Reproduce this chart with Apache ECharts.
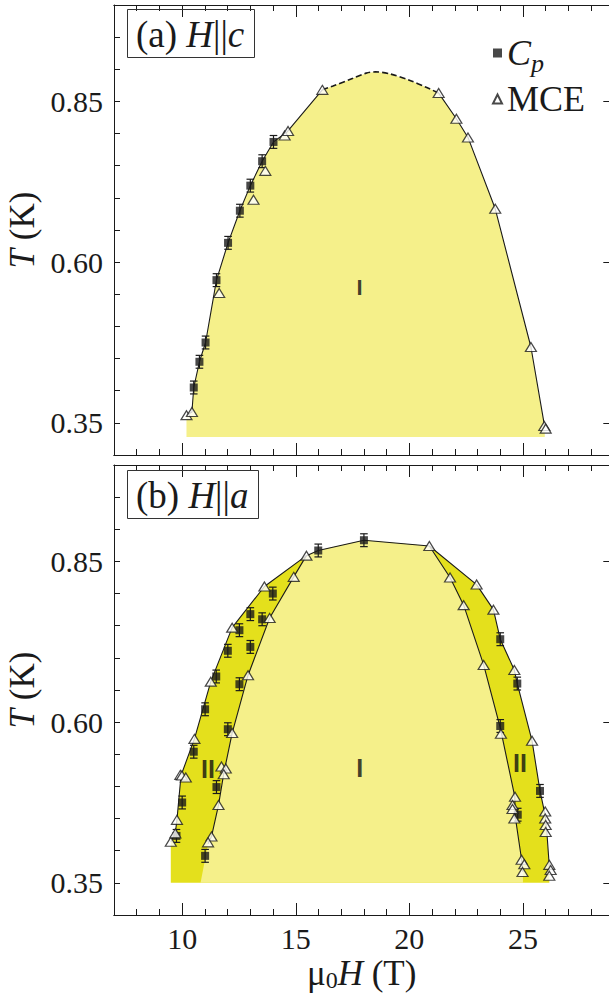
<!DOCTYPE html>
<html>
<head>
<meta charset="utf-8">
<script src="https://cdn.jsdelivr.net/npm/echarts@6/dist/echarts.min.js"></script>
<style>
  html, body { margin: 0; padding: 0; background: #ffffff; }
  #chart { width: 609px; height: 1001px; }
</style>
</head>
<body>
<div id="chart"></div>
<script>
// ---------- Axis ticks ----------
const xMajorTicks = [10, 15, 20, 25];
const xMinorTicks = [7, 8, 9, 10, 11, 12, 13, 14, 15, 16, 17, 18, 19, 20, 21, 22, 23, 24, 25, 26, 27, 28];
const yLabelTicks = [0.35, 0.60, 0.85];
const yMinorTicks = [0.30, 0.35, 0.40, 0.45, 0.50, 0.55, 0.60, 0.65, 0.70, 0.75, 0.80, 0.85, 0.90, 0.95, 1.00];

// ---------- Panel (a): H || c ----------
const cpA_H = [10.51, 10.76, 11.03, 11.51, 12.02, 12.54, 13.00, 13.52, 14.02];
const cpA_T = [0.405, 0.445, 0.475, 0.572, 0.630, 0.680, 0.719, 0.757, 0.787];
const cpA_err = [0.010, 0.010, 0.010, 0.010, 0.010, 0.010, 0.010, 0.010, 0.010];

const mceA_H = [10.19, 10.43, 11.63, 13.14, 13.66, 14.51, 14.66, 16.17, 21.29, 22.07, 22.58, 23.78, 25.35, 25.94, 26.00];
const mceA_T = [0.362, 0.367, 0.552, 0.697, 0.742, 0.797, 0.804, 0.868, 0.863, 0.823, 0.794, 0.683, 0.468, 0.345, 0.341];

// phase boundary, solid on the flanks, dashed across the top
const boundaryA_left = [[10.19, 0.362], [10.43, 0.367], [10.51, 0.405], [10.76, 0.445], [11.03, 0.475],
  [11.51, 0.572], [12.02, 0.630], [12.54, 0.680], [13.00, 0.719], [13.52, 0.757], [14.02, 0.787],
  [14.60, 0.802], [16.17, 0.868]];
const boundaryA_top = [[16.17, 0.868], [16.64, 0.874], [17.52, 0.886], [18.10, 0.894], [18.51, 0.896],
  [19.13, 0.893], [20.00, 0.883], [20.74, 0.872], [21.29, 0.863]];
const boundaryA_right = [[21.29, 0.863], [22.07, 0.823], [22.58, 0.794], [23.78, 0.683], [25.35, 0.468],
  [25.96, 0.343]];
const fillA_base = 0.328;

const regionA_labels = [[17.81, 0.561, 'I']];

// ---------- Panel (b): H || a ----------
const cpB_H = [9.75, 10.00, 10.51, 11.01, 11.01, 11.50, 11.51, 12.01, 12.01, 12.52, 12.52, 13.00, 13.00,
  13.52, 13.99, 15.99, 18.00, 24.00, 24.00, 24.75, 24.77, 25.75];
const cpB_T = [0.423, 0.475, 0.554, 0.620, 0.392, 0.671, 0.499, 0.711, 0.589, 0.743, 0.659, 0.768, 0.717,
  0.760, 0.800, 0.867, 0.883, 0.729, 0.594, 0.660, 0.456, 0.493];
const cpB_err = [0.010, 0.010, 0.010, 0.010, 0.010, 0.010, 0.010, 0.010, 0.010, 0.010, 0.010, 0.010, 0.010,
  0.010, 0.010, 0.010, 0.010, 0.010, 0.010, 0.010, 0.010, 0.010];

const mceB_H = [9.50, 9.70, 9.77, 9.92, 9.99, 10.16, 10.54, 11.26, 12.20, 13.62, 15.47,
  20.88, 22.96, 23.70, 24.62, 25.40, 25.98, 25.98, 26.00, 26.00, 26.16, 26.22, 26.16,
  21.79, 22.39, 23.27, 24.03, 24.65, 24.54, 24.54, 24.62, 24.94, 25.06, 24.98,
  14.91, 13.85, 12.90, 12.20, 11.73, 11.92, 11.83, 11.60, 11.29, 11.14];
const mceB_T = [0.414, 0.427, 0.448, 0.518, 0.517, 0.514, 0.574, 0.663, 0.747, 0.811, 0.859,
  0.874, 0.814, 0.775, 0.681, 0.571, 0.461, 0.450, 0.440, 0.429, 0.378, 0.370, 0.361,
  0.825, 0.782, 0.689, 0.582, 0.484, 0.471, 0.465, 0.450, 0.386, 0.379, 0.367,
  0.826, 0.762, 0.673, 0.583, 0.531, 0.528, 0.519, 0.471, 0.422, 0.413];

// outer boundary (edge of phase II) and inner boundaries (edge of phase I)
const outerB_left = [[9.50, 0.414], [9.70, 0.428], [9.77, 0.448], [9.95, 0.517], [10.54, 0.574],
  [11.26, 0.663], [12.20, 0.747], [13.62, 0.811], [15.47, 0.859]];
const topB = [[15.47, 0.859], [15.99, 0.867], [18.00, 0.883], [20.88, 0.874]];
const outerB_right = [[20.88, 0.874], [22.96, 0.814], [23.70, 0.775], [24.00, 0.729], [24.62, 0.681],
  [24.75, 0.660], [25.40, 0.571], [25.75, 0.493], [25.98, 0.455], [26.05, 0.430], [26.16, 0.375]];
const innerB_left = [[11.14, 0.411], [11.29, 0.422], [11.60, 0.471], [11.83, 0.520], [12.20, 0.583],
  [12.90, 0.673], [13.85, 0.762], [14.91, 0.826], [15.47, 0.859]];
const innerB_right = [[20.88, 0.874], [21.79, 0.825], [22.39, 0.782], [23.27, 0.689], [24.01, 0.590],
  [24.64, 0.484], [24.66, 0.453], [24.94, 0.386], [25.00, 0.367]];
const innerB_foot = [[10.81, 0.350]];
const fillB_base = 0.35;

const regionB_labels = [[17.81, 0.528, 'I']];
const regionB2_labels = [[11.14, 0.527, 'II'], [24.87, 0.537, 'II']];

// ---------- Styling ----------
const SERIF = 'Liberation Serif';
const SANS = 'Liberation Sans';
const INK = '#1a1a1a';
const PHASE_I = '#F5F08A';
const PHASE_II = '#E4E01C';

const X_MIN = 7, X_MAX = 28.8, Y_MIN = 0.30, Y_MAX = 1.00;
const GRID_LEFT = 114, GRID_W = 495.3, GRID_H = 450;
const GRID_TOPS = [5, 465];

const zip = (a, b) => a.map((v, i) => [v, b[i]]);

function xAxesFor(gridIndex, withLabels) {
  const base = {
    type: 'value', gridIndex, min: X_MIN, max: X_MAX,
    splitLine: { show: false },
    axisLine: { show: true, onZero: false, lineStyle: { color: INK, width: 1 } }
  };
  return [
    Object.assign({}, base, {
      position: 'bottom',
      axisTick: { show: true, inside: true, length: 12, customValues: xMajorTicks, lineStyle: { color: INK } },
      axisLabel: withLabels ? {
        show: true, customValues: xMajorTicks, margin: 8,
        fontFamily: SERIF, fontSize: 30, color: INK
      } : { show: false },
      name: withLabels ? '{m|μ}{s|0}{i|H} (T)' : '',
      nameLocation: 'middle', nameGap: 39,
      nameTextStyle: {
        fontFamily: SERIF, fontSize: 35, color: INK,
        rich: {
          m: { fontFamily: SERIF, fontSize: 35, color: INK },
          s: { fontFamily: SERIF, fontSize: 24, color: INK, padding: [14, 0, 0, 0] },
          i: { fontFamily: SERIF, fontSize: 35, color: INK, fontStyle: 'italic' }
        }
      }
    }),
    Object.assign({}, base, {
      position: 'bottom',
      axisTick: { show: true, inside: true, length: 6, customValues: xMinorTicks, lineStyle: { color: INK } },
      axisLabel: { show: false }
    }),
    Object.assign({}, base, {
      position: 'top',
      axisTick: { show: true, inside: true, length: 12, customValues: xMajorTicks, lineStyle: { color: INK } },
      axisLabel: { show: false }
    }),
    Object.assign({}, base, {
      position: 'top',
      axisTick: { show: true, inside: true, length: 6, customValues: xMinorTicks, lineStyle: { color: INK } },
      axisLabel: { show: false }
    })
  ];
}

function yAxesFor(gridIndex) {
  const base = {
    type: 'value', gridIndex, min: Y_MIN, max: Y_MAX,
    splitLine: { show: false },
    axisLine: { show: true, onZero: false, lineStyle: { color: INK, width: 1 } }
  };
  return [
    Object.assign({}, base, {
      position: 'left',
      axisTick: { show: true, inside: true, length: 6, customValues: yMinorTicks, lineStyle: { color: INK } },
      axisLabel: {
        show: true, customValues: yLabelTicks, margin: 11,
        formatter: v => v.toFixed(2),
        fontFamily: SERIF, fontSize: 30, color: INK
      },
      name: '{i|T} (K)',
      nameLocation: 'middle', nameGap: 64, nameRotate: 90,
      nameTextStyle: {
        fontFamily: SERIF, fontSize: 35, color: INK,
        rich: { i: { fontFamily: SERIF, fontSize: 35, color: INK, fontStyle: 'italic' } }
      }
    }),
    Object.assign({}, base, {
      position: 'right',
      axisTick: { show: true, inside: true, length: 6, customValues: yLabelTicks, lineStyle: { color: INK } },
      axisLabel: { show: false }
    })
  ];
}

function errorBars(xAxisIndex, yAxisIndex, H, T, E) {
  return {
    type: 'custom', xAxisIndex, yAxisIndex, silent: true, z: 4,
    data: H.map((h, i) => [h, T[i] - E[i], T[i] + E[i]]),
    encode: { x: 0, y: [1, 2] },
    renderItem(params, api) {
      const lo = api.coord([api.value(0), api.value(1)]);
      const hi = api.coord([api.value(0), api.value(2)]);
      const w = 3.8;
      const st = { stroke: INK, lineWidth: 1.2 };
      return {
        type: 'group',
        children: [
          { type: 'line', shape: { x1: lo[0], y1: lo[1], x2: hi[0], y2: hi[1] }, style: st },
          { type: 'line', shape: { x1: lo[0] - w, y1: lo[1], x2: lo[0] + w, y2: lo[1] }, style: st },
          { type: 'line', shape: { x1: hi[0] - w, y1: hi[1], x2: hi[0] + w, y2: hi[1] }, style: st }
        ]
      };
    }
  };
}

function boundaryLine(xAxisIndex, yAxisIndex, data, dashed) {
  return {
    type: 'line', xAxisIndex, yAxisIndex, data, silent: true, z: 3,
    symbol: 'none', smooth: dashed ? 0.3 : false,
    lineStyle: { color: INK, width: dashed ? 1.6 : 1.1, type: dashed ? [6, 3] : 'solid' }
  };
}

function areaFill(xAxisIndex, yAxisIndex, data, color, base, z) {
  return {
    type: 'line', xAxisIndex, yAxisIndex, data, silent: true, z,
    symbol: 'none', lineStyle: { width: 0, opacity: 0 },
    areaStyle: { color, opacity: 1, origin: base }
  };
}

function cpPoints(xAxisIndex, yAxisIndex, H, T) {
  return {
    name: 'Cp', type: 'scatter', xAxisIndex, yAxisIndex, z: 5,
    data: zip(H, T), symbol: 'rect', symbolSize: 8,
    itemStyle: { color: INK }
  };
}

function mcePoints(xAxisIndex, yAxisIndex, H, T) {
  return {
    name: 'MCE', type: 'scatter', xAxisIndex, yAxisIndex, z: 6,
    data: zip(H, T), symbol: 'triangle', symbolSize: [11, 9],
    itemStyle: { color: '#ffffff', borderColor: INK, borderWidth: 1.2 }
  };
}

function regionLabels(xAxisIndex, yAxisIndex, data, size) {
  return {
    type: 'scatter', xAxisIndex, yAxisIndex, silent: true, z: 7,
    data, symbol: 'circle', symbolSize: 1,
    itemStyle: { color: 'rgba(0,0,0,0)' },
    label: {
      show: true, position: 'inside', formatter: p => p.data[2],
      fontFamily: SANS, fontWeight: 'bold', fontSize: size, color: '#111111'
    }
  };
}

function panelTitle(letter, dir, top) {
  return {
    text: '{n|(' + letter + ') }{i|H}{n|||}{i|' + dir + '}',
    left: 127, top,
    borderColor: '#333', borderWidth: 1,
    padding: [7, 10, 5, 9],
    textStyle: {
      fontFamily: SERIF, fontSize: 37, color: INK, fontWeight: 'normal',
      rich: {
        n: { fontFamily: SERIF, fontSize: 37, color: INK },
        i: { fontFamily: SERIF, fontSize: 37, color: INK, fontStyle: 'italic' }
      }
    }
  };
}

const chart = echarts.init(document.getElementById('chart'), null, { renderer: 'svg' });

chart.setOption({
  animation: false,
  backgroundColor: '#ffffff',
  grid: GRID_TOPS.map(t => ({
    left: GRID_LEFT, top: t, width: GRID_W, height: GRID_H,
    containLabel: false, outerBoundsMode: 'none'
  })),
  title: [panelTitle('a', 'c', 9), panelTitle('b', 'a', 470)],
  legend: {
    data: [{ name: 'Cp', icon: 'rect' }, { name: 'MCE', icon: 'triangle' }],
    orient: 'vertical', left: 487, top: 30,
    itemWidth: 9, itemHeight: 9, itemGap: 5,
    selectedMode: false,
    formatter: n => n === 'Cp' ? '{i|C}{s|p}' : '{n|MCE}',
    textStyle: {
      fontFamily: SERIF, fontSize: 36, color: INK,
      rich: {
        i: { fontFamily: SERIF, fontSize: 36, color: INK, fontStyle: 'italic' },
        s: { fontFamily: SERIF, fontSize: 26, color: INK, fontStyle: 'italic', padding: [20, 0, 0, 0] },
        n: { fontFamily: SERIF, fontSize: 36, color: INK }
      }
    }
  },
  xAxis: xAxesFor(0, false).concat(xAxesFor(1, true)),
  yAxis: yAxesFor(0).concat(yAxesFor(1)),
  series: [
    // panel (a)
    areaFill(0, 0, boundaryA_left.concat(boundaryA_top.slice(1), boundaryA_right.slice(1)), PHASE_I, fillA_base, 1),
    boundaryLine(0, 0, boundaryA_left, false),
    boundaryLine(0, 0, boundaryA_top, true),
    boundaryLine(0, 0, boundaryA_right, false),
    errorBars(0, 0, cpA_H, cpA_T, cpA_err),
    cpPoints(0, 0, cpA_H, cpA_T),
    mcePoints(0, 0, mceA_H, mceA_T),
    regionLabels(0, 0, regionA_labels, 22),
    // panel (b)
    areaFill(4, 2, outerB_left.concat(topB.slice(1), outerB_right.slice(1)), PHASE_II, fillB_base, 1),
    areaFill(4, 2, innerB_foot.concat(innerB_left, topB.slice(1), innerB_right.slice(1)), PHASE_I, fillB_base, 2),
    boundaryLine(4, 2, outerB_left.concat(topB.slice(1), outerB_right.slice(1)), false),
    boundaryLine(4, 2, innerB_left, false),
    boundaryLine(4, 2, innerB_right, false),
    errorBars(4, 2, cpB_H, cpB_T, cpB_err),
    cpPoints(4, 2, cpB_H, cpB_T),
    mcePoints(4, 2, mceB_H, mceB_T),
    regionLabels(4, 2, regionB_labels, 25),
    regionLabels(4, 2, regionB2_labels, 25)
  ]
});
</script>
</body>
</html>
